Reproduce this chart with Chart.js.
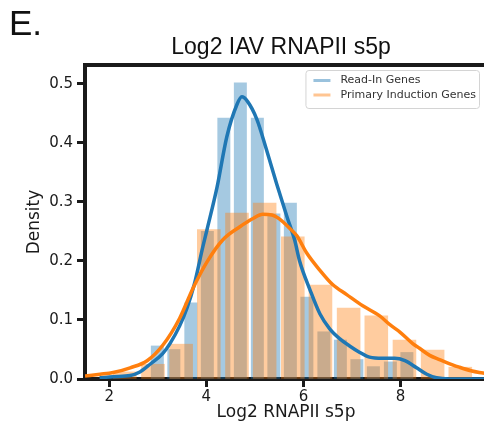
<!DOCTYPE html>
<html>
<head>
<meta charset="utf-8">
<script src="https://cdn.jsdelivr.net/npm/chart.js@4.4.1/dist/chart.umd.min.js"></script>
<style>
    html, body { margin: 0; padding: 0; background: #fff; overflow: hidden; }
    #wrap { width: 484px; height: 426px; overflow: hidden; }
    canvas { display: block; }
</style>
</head>
<body>
<div id="wrap"><canvas id="chart" width="562" height="426"></canvas></div>
<script>
const chartTitle = 'Log2 IAV RNAPII s5p';
const panelLetter = 'E.';
const xAxisTitle = 'Log2 RNAPII s5p';
const yAxisTitle = 'Density';
const seriesNames = ['Read-In Genes', 'Primary Induction Genes'];

const xRange = [1.5, 9.78];
const yRange = [0, 0.532];
const xTickValues = [2, 4, 6, 8];
const xTickLabels = ['2', '4', '6', '8'];
const yTickValues = [0, 0.1, 0.2, 0.3, 0.4, 0.5];
const yTickLabels = ['0.0', '0.1', '0.2', '0.3', '0.4', '0.5'];

// histogram bins (centres) and densities
const readInBinWidth = 0.343;
const readInBins = [2.99, 3.33, 3.68, 4.02, 4.36, 4.70, 5.05, 5.39, 5.73, 6.07, 6.42, 6.76, 7.10, 7.44, 7.79, 8.13];
const readInDensity = [0.056, 0.05, 0.129, 0.25, 0.442, 0.502, 0.442, 0.28, 0.298, 0.139, 0.08, 0.066, 0.033, 0.021, 0.029, 0.045];

const primaryBinWidth = 0.576;
const primaryBins = [2.32, 2.90, 3.48, 4.05, 4.63, 5.20, 5.78, 6.35, 6.93, 7.50, 8.08, 8.66, 9.23];
const primaryDensity = [0.012, 0.025, 0.059, 0.253, 0.281, 0.298, 0.241, 0.159, 0.12, 0.107, 0.066, 0.049, 0.02];

// kde curves
const readInKdeX = [1.80, 2.08, 2.43, 2.63, 2.84, 3.10, 3.25, 3.45, 3.60, 3.75, 3.93, 4.01, 4.22, 4.42, 4.63, 4.73, 4.85, 5.04, 5.24, 5.45, 5.66, 5.82, 5.92, 6.13, 6.34, 6.54, 6.75, 6.95, 7.16, 7.36, 7.63, 7.88, 8.09, 8.33, 8.54, 8.74, 9.00, 9.78];
const readInKdeY = [0.002, 0.004, 0.006, 0.012, 0.025, 0.043, 0.06, 0.09, 0.12, 0.16, 0.225, 0.252, 0.325, 0.41, 0.465, 0.478, 0.47, 0.44, 0.388, 0.33, 0.275, 0.235, 0.2, 0.152, 0.11, 0.085, 0.068, 0.056, 0.045, 0.037, 0.035, 0.035, 0.031, 0.019, 0.008, 0.002, 0.0, 0.0];

const primaryKdeX = [1.50, 1.81, 2.08, 2.43, 2.78, 3.11, 3.45, 3.72, 4.01, 4.34, 4.69, 4.96, 5.16, 5.35, 5.51, 5.72, 5.86, 6.07, 6.34, 6.60, 6.89, 7.22, 7.57, 7.78, 7.98, 8.25, 8.39, 8.60, 8.80, 9.07, 9.21, 9.45, 9.62, 9.78];
const primaryKdeY = [0.005, 0.008, 0.011, 0.019, 0.031, 0.058, 0.103, 0.153, 0.198, 0.236, 0.258, 0.272, 0.279, 0.278, 0.271, 0.255, 0.243, 0.213, 0.184, 0.16, 0.143, 0.124, 0.107, 0.092, 0.08, 0.06, 0.052, 0.04, 0.033, 0.024, 0.02, 0.014, 0.011, 0.009];

const BLUE = '#1f77b4';
const ORANGE = '#ff7f0e';
const INK = '#1a1a1a';

// layout of the plot box inside the canvas
const Y_AXIS_W = 85;
const RIGHT_GAP = 75;
const X_AXIS_H = 47;
const canvas = document.getElementById('chart');
const pxPerUnit = (canvas.width - Y_AXIS_W - RIGHT_GAP) / (xRange[1] - xRange[0]);

const toPoints = (xs, ys) => xs.map((x, i) => ({x: x, y: ys[i]}));

const extras = {
    id: 'extras',
    afterDraw(chart) {
        const {ctx, chartArea} = chart;
        ctx.save();

        ctx.strokeStyle = INK;
        ctx.lineWidth = 4;
        ctx.beginPath();
        ctx.moveTo(chartArea.left - 2, chartArea.top);
        ctx.lineTo(chart.width, chartArea.top);
        ctx.stroke();

        ctx.fillStyle = '#111';
        ctx.font = '35px "Liberation Sans", Arial, sans-serif';
        ctx.textBaseline = 'alphabetic';
        ctx.textAlign = 'left';
        ctx.fillText(panelLetter, 9, 35);

        // legend
        ctx.font = '11px "DejaVu Sans"';
        const textW = Math.max(...seriesNames.map(s => ctx.measureText(s).width));
        const boxW = 8 + 17 + 10 + textW + 3;
        const boxH = 38;
        const bx = chartArea.right - 8 - boxW;
        const by = chartArea.top + 5;
        ctx.fillStyle = 'rgba(255,255,255,0.8)';
        ctx.strokeStyle = '#d4d4d4';
        ctx.lineWidth = 1;
        ctx.beginPath();
        ctx.roundRect(bx + 0.5, by + 0.5, boxW, boxH, 3);
        ctx.fill();
        ctx.stroke();

        const swatches = ['rgba(31,119,180,0.45)', 'rgba(255,127,14,0.45)'];
        seriesNames.forEach((name, i) => {
            const ly = by + 10.5 + i * 14.5;
            ctx.strokeStyle = swatches[i];
            ctx.lineWidth = 3;
            ctx.beginPath();
            ctx.moveTo(bx + 8, ly);
            ctx.lineTo(bx + 25, ly);
            ctx.stroke();
            ctx.fillStyle = '#333';
            ctx.textBaseline = 'middle';
            ctx.fillText(name, bx + 35, ly);
        });

        ctx.restore();
    }
};

const tickFont = {family: 'DejaVu Sans', size: 15};
const titleFont = {family: 'DejaVu Sans', size: 17};

new Chart(canvas.getContext('2d'), {
    type: 'bar',
    data: {
        datasets: [
            {
                type: 'line',
                label: seriesNames[1],
                data: toPoints(primaryKdeX, primaryKdeY),
                borderColor: ORANGE,
                borderWidth: 3.5,
                pointRadius: 0,
                fill: false,
                cubicInterpolationMode: 'monotone',
                order: 0
            },
            {
                type: 'line',
                label: seriesNames[0],
                data: toPoints(readInKdeX, readInKdeY),
                borderColor: BLUE,
                borderWidth: 3.5,
                pointRadius: 0,
                fill: false,
                cubicInterpolationMode: 'monotone',
                order: 1
            },
            {
                type: 'bar',
                label: seriesNames[1] + ' histogram',
                data: toPoints(primaryBins, primaryDensity),
                backgroundColor: 'rgba(255,127,14,0.4)',
                borderWidth: 0,
                grouped: false,
                barThickness: primaryBinWidth * pxPerUnit * 0.82,
                order: 2
            },
            {
                type: 'bar',
                label: seriesNames[0] + ' histogram',
                data: toPoints(readInBins, readInDensity),
                backgroundColor: 'rgba(31,119,180,0.4)',
                borderWidth: 0,
                grouped: false,
                barThickness: readInBinWidth * pxPerUnit * 0.74,
                order: 3
            }
        ]
    },
    options: {
        responsive: false,
        animation: false,
        layout: {padding: 0},
        plugins: {
            legend: {display: false},
            tooltip: {enabled: false},
            title: {
                display: true,
                text: chartTitle,
                color: '#111',
                font: {family: 'Liberation Sans', size: 23, weight: 'normal'},
                padding: {top: 34, bottom: 3.4}
            }
        },
        scales: {
            x: {
                type: 'linear',
                min: xRange[0],
                max: xRange[1],
                offset: false,
                z: 1,
                afterBuildTicks: s => { s.ticks = xTickValues.map(v => ({value: v})); },
                afterFit: s => { s.height = X_AXIS_H; },
                grid: {display: true, offset: false, drawOnChartArea: false, drawTicks: true, tickLength: 8, tickWidth: 3, tickColor: INK},
                border: {display: true, width: 4, color: INK},
                ticks: {color: INK, font: tickFont, padding: 1, maxRotation: 0, callback: (v, i) => xTickLabels[i]},
                title: {display: true, text: xAxisTitle, color: INK, font: titleFont, padding: {top: 0, bottom: 3}}
            },
            y: {
                type: 'linear',
                min: yRange[0],
                max: yRange[1],
                z: 1,
                afterBuildTicks: s => { s.ticks = yTickValues.map(v => ({value: v})); },
                afterFit: s => { s.width = Y_AXIS_W; },
                grid: {display: true, drawOnChartArea: false, drawTicks: true, tickLength: 8, tickWidth: 3, tickColor: INK},
                border: {display: true, width: 4, color: INK},
                ticks: {color: INK, font: tickFont, padding: 4, callback: (v, i) => yTickLabels[i]},
                title: {display: true, text: yAxisTitle, color: INK, font: titleFont, padding: {top: 24, bottom: 0}}
            },
            y2: {
                type: 'linear',
                position: 'right',
                afterFit: s => { s.width = RIGHT_GAP; },
                grid: {display: false},
                border: {display: false},
                ticks: {display: false}
            }
        }
    },
    plugins: [extras]
});
</script>
</body>
</html>
